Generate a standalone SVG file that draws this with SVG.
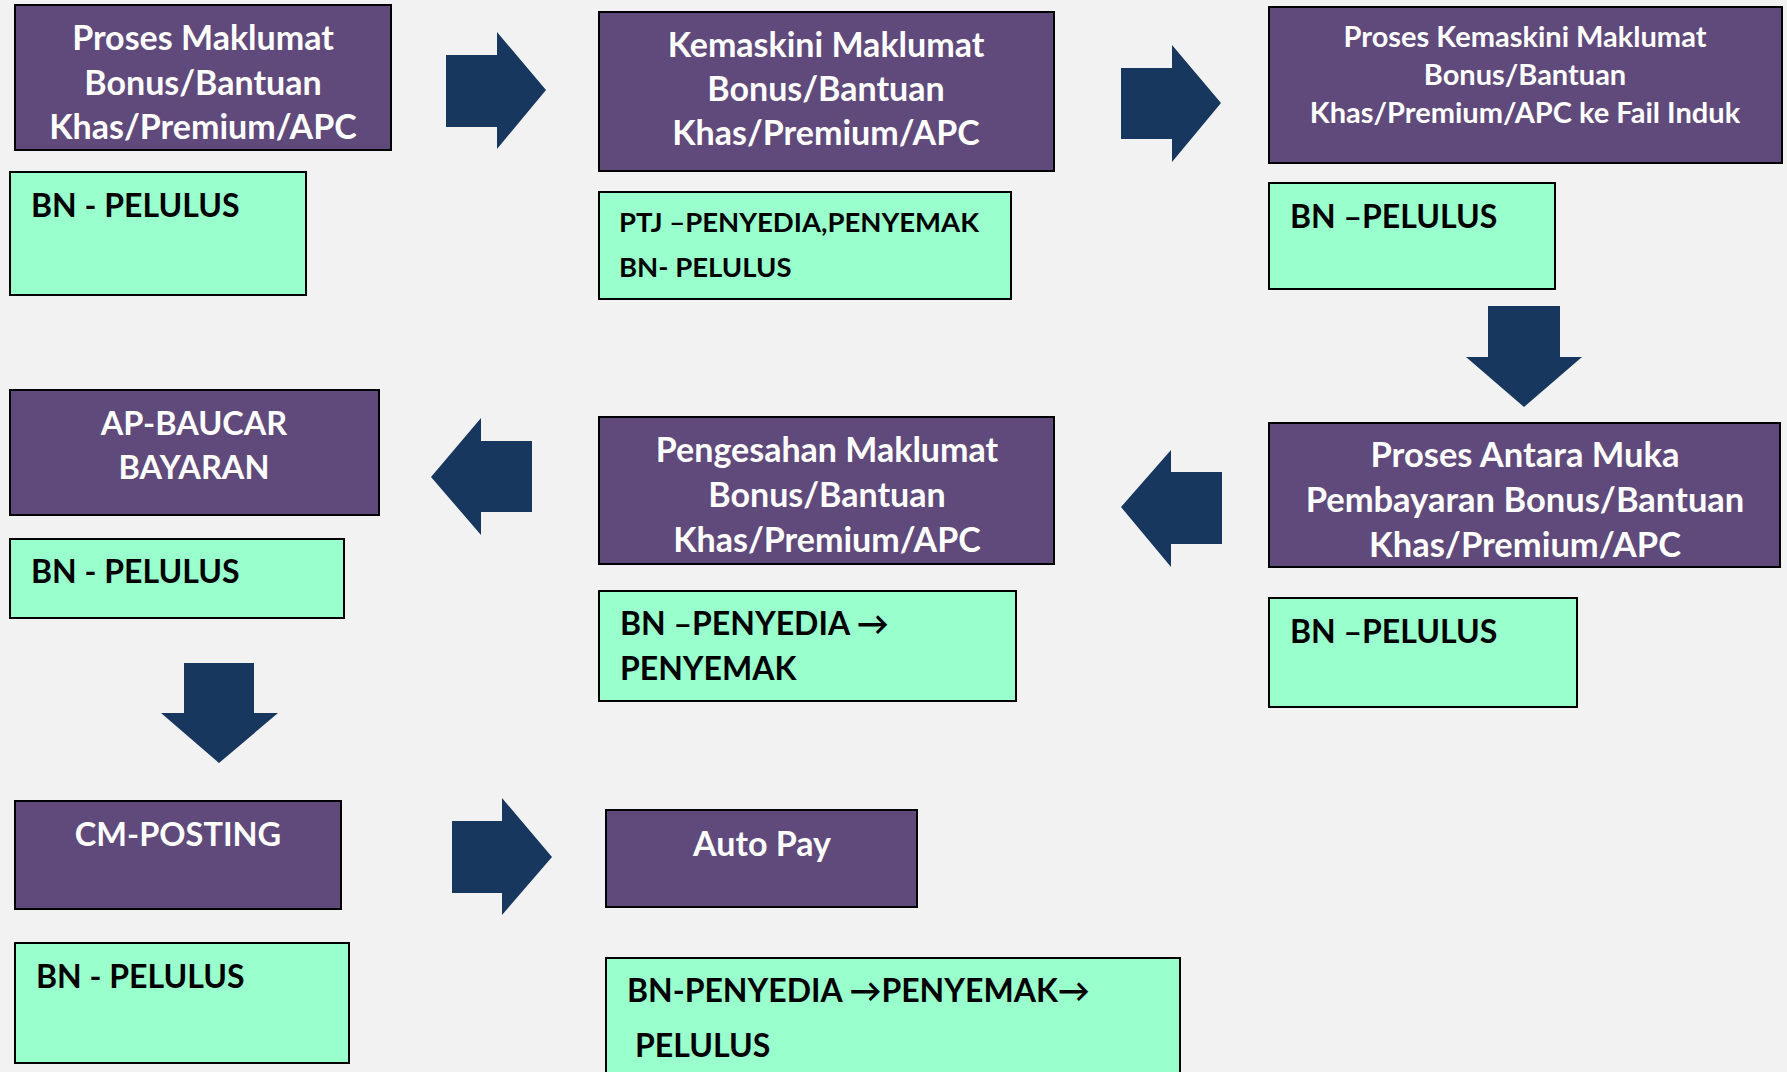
<svg xmlns="http://www.w3.org/2000/svg" width="1787" height="1072" viewBox="0 0 1787 1072">
<style>
.bg{fill:#F2F2F2}
.proc{fill:#604A7B;stroke:#000;stroke-width:2}
.role{fill:#99FFCC;stroke:#000;stroke-width:2}
.arrow{fill:#17375E}
.pt{font-family:Lato,"Open Sans","Liberation Sans",sans-serif;font-weight:bold;fill:#fff;text-anchor:middle;font-size:34px}
.rt{font-family:Lato,"Open Sans","Liberation Sans",sans-serif;font-weight:bold;fill:#000;font-size:32px}
</style>
<rect class="bg" x="0" y="0" width="1787" height="1072"/>
<g id="connectors">
<polygon class="arrow" points="446,55 497,55 497,32 546,90 497,149 497,127 446,127"/>
<polygon class="arrow" points="1121,68 1172,68 1172,45 1221,103 1172,162 1172,139 1121,139"/>
<polygon class="arrow" points="1488,306 1560,306 1560,357 1582,357 1524,407 1466,357 1488,357"/>
<polygon class="arrow" points="1121,507 1171,450 1171,472 1222,472 1222,544 1171,544 1171,567"/>
<polygon class="arrow" points="431,477 481,418 481,441 532,441 532,512 481,512 481,535"/>
<polygon class="arrow" points="184,663 254,663 254,713 278,713 219,763 161,713 184,713"/>
<polygon class="arrow" points="452,821 502,821 502,798 552,857 502,915 502,893 452,893"/>
</g>
<g id="n1">
<rect class="proc" x="15" y="5" width="376" height="145"/>
<text class="pt" x="203" y="50">Proses Maklumat</text>
<text class="pt" x="203" y="95">Bonus/Bantuan</text>
<text class="pt" x="203" y="139">Khas/Premium/APC</text>
</g>
<g id="n1r">
<rect class="role" x="10" y="172" width="296" height="123"/>
<text class="rt" x="31" y="217">BN - PELULUS</text>
</g>
<g id="n2">
<rect class="proc" x="599" y="12" width="455" height="159"/>
<text class="pt" x="826" y="57">Kemaskini Maklumat</text>
<text class="pt" x="826" y="101">Bonus/Bantuan</text>
<text class="pt" x="826" y="145">Khas/Premium/APC</text>
</g>
<g id="n2r">
<rect class="role" x="599" y="192" width="412" height="107"/>
<text class="rt" x="619" y="232" style="font-size:27.5px">PTJ –PENYEDIA,PENYEMAK</text>
<text class="rt" x="619" y="277" style="font-size:27.5px">BN- PELULUS</text>
</g>
<g id="n3">
<rect class="proc" x="1269" y="7" width="513" height="156"/>
<text class="pt" x="1525" y="47" style="font-size:29px">Proses Kemaskini Maklumat</text>
<text class="pt" x="1525" y="85" style="font-size:29px">Bonus/Bantuan</text>
<text class="pt" x="1525" y="123" style="font-size:29px">Khas/Premium/APC ke Fail Induk</text>
</g>
<g id="n3r">
<rect class="role" x="1269" y="183" width="286" height="106"/>
<text class="rt" x="1290" y="228">BN –PELULUS</text>
</g>
<g id="n4">
<rect class="proc" x="1269" y="423" width="511" height="144"/>
<text class="pt" x="1525" y="467" style="font-size:34.5px">Proses Antara Muka</text>
<text class="pt" x="1525" y="512" style="font-size:34.5px">Pembayaran Bonus/Bantuan</text>
<text class="pt" x="1525" y="557" style="font-size:34.5px">Khas/Premium/APC</text>
</g>
<g id="n4r">
<rect class="role" x="1269" y="598" width="308" height="109"/>
<text class="rt" x="1290" y="643">BN –PELULUS</text>
</g>
<g id="n5">
<rect class="proc" x="599" y="417" width="455" height="147"/>
<text class="pt" x="827" y="462">Pengesahan Maklumat</text>
<text class="pt" x="827" y="507">Bonus/Bantuan</text>
<text class="pt" x="827" y="552">Khas/Premium/APC</text>
</g>
<g id="n5r">
<rect class="role" x="599" y="591" width="417" height="110"/>
<text class="rt" x="620" y="635">BN –PENYEDIA →</text>
<text class="rt" x="620" y="680">PENYEMAK</text>
</g>
<g id="n6">
<rect class="proc" x="10" y="390" width="369" height="125"/>
<text class="pt" x="194" y="435" style="font-size:32.5px">AP-BAUCAR</text>
<text class="pt" x="194" y="479" style="font-size:32.5px">BAYARAN</text>
</g>
<g id="n6r">
<rect class="role" x="10" y="539" width="334" height="79"/>
<text class="rt" x="31" y="583">BN - PELULUS</text>
</g>
<g id="n7">
<rect class="proc" x="15" y="801" width="326" height="108"/>
<text class="pt" x="178" y="846" style="font-size:32.5px">CM-POSTING</text>
</g>
<g id="n7r">
<rect class="role" x="15" y="943" width="334" height="120"/>
<text class="rt" x="36" y="988">BN - PELULUS</text>
</g>
<g id="n8">
<rect class="proc" x="606" y="810" width="311" height="97"/>
<text class="pt" x="762" y="856">Auto Pay</text>
</g>
<g id="n8r">
<rect class="role" x="606" y="958" width="574" height="130"/>
<text class="rt" x="627" y="1002">BN-PENYEDIA →PENYEMAK→</text>
<text class="rt" x="635" y="1057">PELULUS</text>
</g>
</svg>
